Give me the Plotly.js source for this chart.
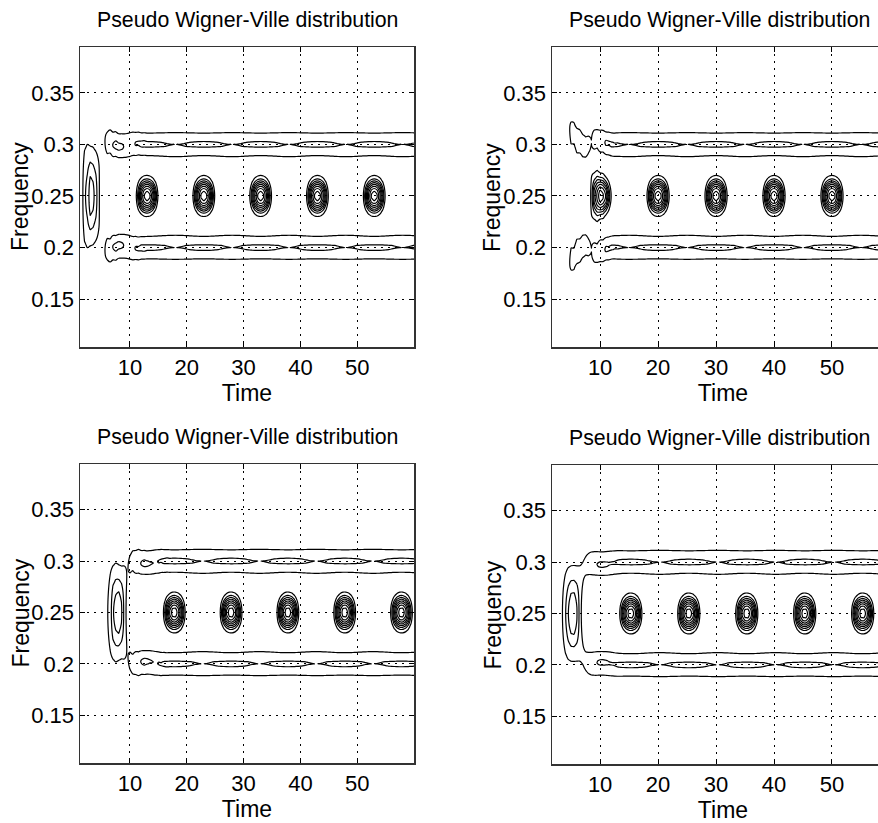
<!DOCTYPE html>
<html><head><meta charset="utf-8">
<script src="https://cdn.plot.ly/plotly-3.0.1.min.js"></script>
<style>html,body{margin:0;padding:0;overflow:hidden;background:#fff}#plot{width:900px;height:823px}</style>
</head><body><div id="plot"></div>
<script>
// ---- data ----
const panelTitles = ["Pseudo Wigner-Ville distribution", "Pseudo Wigner-Ville distribution",
                     "Pseudo Wigner-Ville distribution", "Pseudo Wigner-Ville distribution"];
const toneFreqs = [0.2, 0.3];                  // the two constant-frequency components
const signalOnset = [0, 0, 4, 0.5];            // time at which each signal starts
const crossTermPeakTime = [13, 10, 17.8, 15.3];// time of a maximum of the interference term
const lagHalfLength = [13, 13, 13, 13];        // half length of the Hamming lag window
// contour levels, as multiples of the steady auto-term (ridge) height
const contourLevels = [0.73, 0.982, 1.15, 1.3, 1.45, 1.6, 1.75, 1.9];
const timeRanges = [[1.2, 60], [1.7, 60.7], [1.2, 60], [1.7, 60.7]];
const freqRange = [0.1035, 0.3945];
const xTickVals = [10, 20, 30, 40, 50];
const xTickText = ["10", "20", "30", "40", "50"];
const yTickVals = [0.15, 0.2, 0.25, 0.3, 0.35];
const yTickText = ["0.15", "0.2", "0.25", "0.3", "0.35"];
const xLabel = "Time", yLabel = "Frequency";

// ---- pseudo Wigner-Ville distribution of the two-tone signal ----
function pwvd(p) {
  const n0 = signalOnset[p], Lh = lagHalfLength[p];
  const f1 = toneFreqs[0], f2 = toneFreqs[1];
  const phi = -2 * Math.PI * (f2 - f1) * crossTermPeakTime[p];
  const h = [];
  for (let k = -Lh; k <= Lh; k++) h.push(0.54 + 0.46 * Math.cos(Math.PI * k / (Lh + 1)));
  const ridge = h.reduce((a, b) => a + b, 0);   // steady auto-term height
  const sig = s => {
    if (s < n0) return [0, 0];
    const a = 2 * Math.PI * f1 * s, b = 2 * Math.PI * f2 * s + phi;
    return [Math.cos(a) + Math.cos(b), Math.sin(a) + Math.sin(b)];
  };
  const ts = [], fs = [];
  for (let t = 0; t <= 62 + 1e-9; t += 0.5) ts.push(t);
  for (let f = 0.1; f <= 0.4 + 1e-9; f += 0.002) fs.push(+f.toFixed(4));
  const z = fs.map(() => new Array(ts.length).fill(0));
  ts.forEach((t, j) => {
    if (t < n0) return;
    const M = Math.min(Lh, Math.floor(t - n0));
    const prods = [];
    for (let tau = -M; tau <= M; tau++) {
      const u = sig(t + tau), v = sig(t - tau);
      prods.push([tau, h[tau + Lh] * (u[0] * v[0] + u[1] * v[1]), h[tau + Lh] * (u[1] * v[0] - u[0] * v[1])]);
    }
    fs.forEach((f, i) => {
      let acc = 0;
      for (const [tau, re, im] of prods) {
        const w = -4 * Math.PI * f * tau;
        acc += re * Math.cos(w) - im * Math.sin(w);
      }
      z[i][j] = acc / ridge;
    });
  });
  return {x: ts, y: fs, z: z};
}

// ---- layout ----
const W = 900, H = 823;
const boxes = [ // pixel boxes [left, right, top, bottom]
  [80, 414, 47, 347], [552, 894, 47, 347],
  [80, 414, 464, 763], [552, 894, 465, 764]
];
const titleCenters = [247, 719, 247, 719];
const tickFont = {family: "Liberation Sans, Arial, sans-serif", size: 22, color: "#000"};
const labelFont = {family: "Liberation Sans, Arial, sans-serif", size: 23, color: "#000"};
const titleFont = {family: "Liberation Sans, Arial, sans-serif", size: 21.3, color: "#000"};
const traces = [], annotations = [];
const layout = {width: W, height: H, margin: {l: 0, r: 0, t: 0, b: 0}, showlegend: false,
  paper_bgcolor: "#fff", plot_bgcolor: "#fff", font: tickFont, annotations: annotations};

boxes.forEach((b, p) => {
  const d = pwvd(p);
  const sfx = p === 0 ? "" : String(p + 1);
  contourLevels.forEach(lev => {
    traces.push({type: "contour", x: d.x, y: d.y, z: d.z, xaxis: "x" + sfx, yaxis: "y" + sfx,
      showscale: false, hoverinfo: "skip", autocontour: false,
      colorscale: [[0, "#000"], [1, "#000"]],
      contours: {coloring: "lines", start: lev, end: lev, size: 1},
      line: {width: 1.2, smoothing: 1}});
  });
  const common = {ticks: "inside", ticklen: 5, tickcolor: "#000", showline: true, mirror: "ticks",
    linecolor: "#333", linewidth: 1.5, showgrid: true, gridcolor: "#000", gridwidth: 1,
    griddash: "2px,5px", zeroline: false, automargin: false, tickfont: tickFont, tickmode: "array"};
  layout["xaxis" + sfx] = Object.assign({domain: [b[0] / W, b[1] / W], range: timeRanges[p],
    anchor: "y" + sfx, tickvals: xTickVals, ticktext: xTickText,
    title: {text: xLabel, font: labelFont, standoff: 5}}, common);
  layout["yaxis" + sfx] = Object.assign({domain: [1 - b[3] / H, 1 - b[2] / H], range: freqRange,
    anchor: "x" + sfx, tickvals: yTickVals, ticktext: yTickText}, common);
  annotations.push({text: yLabel, xref: "paper", yref: "paper", textangle: -90,
    x: (b[0] - 60) / W, y: 1 - ((b[2] + b[3]) / 2) / H, xanchor: "center", yanchor: "middle",
    showarrow: false, font: labelFont});
  annotations.push({text: panelTitles[p], xref: "paper", yref: "paper",
    x: titleCenters[p] / W, y: 1 - (b[2] - 27) / H, xanchor: "center", yanchor: "middle",
    showarrow: false, font: titleFont});
});

Plotly.newPlot("plot", traces, layout, {staticPlot: true});
</script></body></html>
